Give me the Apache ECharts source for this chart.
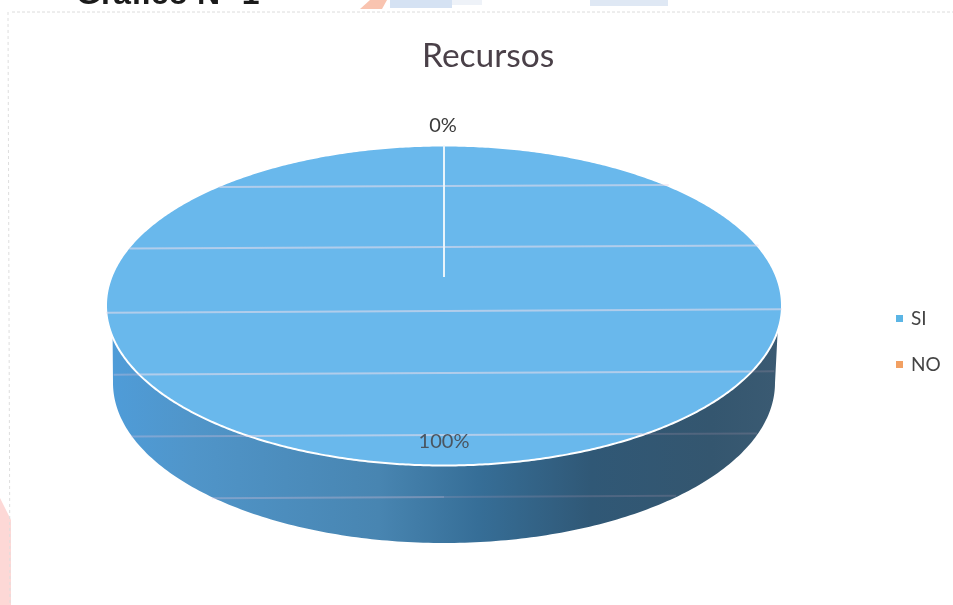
<!DOCTYPE html>
<html><head><meta charset="utf-8">
<style>html,body{margin:0;padding:0;background:#fff}#c{width:953px;height:605px}</style>
<script src="https://cdn.jsdelivr.net/npm/echarts@6/dist/echarts.min.js"></script>
</head><body><div id="c"></div>
<script>
var categories = ['SI', 'NO'];
var values = [100, 0];
var percentLabels = ['100%', '0%'];
var chartTitle = 'Recursos';
var scanHeading = 'Gráfico N° 1';

var cx = 444, cy = 305.5, rx = 338, ry = 160;
var bx = 444, by = 383, brx = 331, bry = 160;
var apexY = 277;
var scanLines = [186, 247, 311, 373, 435, 497];
var total = values[0] + values[1];

function sweepOf(i) {
  var before = 0;
  for (var k = 0; k < i; k++) before += values[k];
  return [-Math.PI / 2 + before / total * 2 * Math.PI, -Math.PI / 2 + (before + values[i]) / total * 2 * Math.PI];
}
function arc(x, y, a, b, t0, t1, n) {
  var p = [];
  for (var i = 0; i <= n; i++) {
    var t = t0 + (t1 - t0) * i / n;
    p.push([x + a * Math.cos(t), y + b * Math.sin(t)]);
  }
  return p;
}
function halfW(y, yc, b, a) {
  var d = (y - yc) / b;
  return Math.abs(d) >= 1 ? -1 : a * Math.sqrt(1 - d * d);
}
function scanSegs() {
  var out = [];
  var seg = function (x1, x2, y, col) {
    out.push({ type: 'line', silent: true,
      shape: { x1: x1, y1: y - (x1 - 444) * 0.005, x2: x2, y2: y - (x2 - 444) * 0.005 },
      style: { stroke: col, lineWidth: 2 } });
  };
  scanLines.forEach(function (y) {
    var t = halfW(y, cy, ry, rx), s = y > 335 ? halfW(y, by, bry, brx) : -1;
    if (t > 0) seg(cx - t, cx + t, y, 'rgba(236,222,235,0.55)');
    if (s > 0 && s > t) {
      var inner = Math.max(t, 0);
      seg(bx - s, bx - inner, y, 'rgba(235,200,220,0.3)');
      seg(bx + inner, bx + s, y, 'rgba(215,170,195,0.18)');
    }
  });
  return out;
}
function renderSlice(i) {
  return function () {
    var kids = [];
    var sw = sweepOf(i);
    if (values[i] > 0) {
      var front = arc(cx, cy, rx, ry, 0.16, Math.PI - 0.198, 200)
        .concat(arc(bx, by, brx, bry, Math.PI, 0, 200));
      kids.push({ type: 'polygon', shape: { points: front }, style: { fill: {
        type: 'linear', x: 0, y: 0, x2: 1, y2: 0, colorStops: [
          { offset: 0, color: '#4f9cd8' }, { offset: 0.12, color: '#5095c9' },
          { offset: 0.4, color: '#4885b1' }, { offset: 0.55, color: '#366e97' },
          { offset: 0.72, color: '#305876' }, { offset: 0.9, color: '#34566f' },
          { offset: 1, color: '#3a5a72' }] } } });
      kids.push({ type: 'polygon',
        shape: { points: arc(cx, cy, rx, ry, sw[0], sw[1], 720) },
        style: { fill: '#69b8ec', stroke: '#ffffff', lineWidth: 2 } });
      kids = kids.concat(scanSegs());
      kids.push({ type: 'text', z2: 10, style: { text: percentLabels[i], x: cx, y: 442, align: 'center',
        verticalAlign: 'middle', font: '20px Lato', fill: '#4a5560' } });
    } else {
      kids.push({ type: 'line', z2: 9, shape: { x1: cx + rx * Math.cos(sw[0]), y1: cy + ry * Math.sin(sw[0]), x2: cx, y2: apexY },
        style: { stroke: '#e8f4fb', lineWidth: 2 } });
      kids.push({ type: 'text', z2: 10, style: { text: percentLabels[i], x: cx - 1, y: 126, align: 'center',
        verticalAlign: 'middle', font: '20px Lato', fill: '#3a3a3a' } });
    }
    return { type: 'group', children: kids };
  };
}

var chart = echarts.init(document.getElementById('c'), null, { renderer: 'canvas' });
chart.setOption({
  animation: false,
  backgroundColor: '#ffffff',
  title: { text: chartTitle, left: 422, top: 39,
    textStyle: { fontFamily: 'Lato', fontSize: 33.5, fontWeight: 'normal', color: '#4a4048' }, padding: 0 },
  legend: { orient: 'vertical', left: 891, top: 304, icon: 'rect', itemWidth: 7, itemHeight: 7,
    itemGap: 27, data: categories,
    textStyle: { fontFamily: 'Lato', fontSize: 19, color: '#444', padding: [0, 0, 0, 3] } },
  graphic: [
    { type: 'polygon', shape: { points: [[0, 498], [11, 520], [11, 605], [0, 605]] }, style: { fill: '#fdd8d6' } },
    { type: 'polygon', shape: { points: [[370, 0], [387, 0], [382, 9], [360, 9]] }, style: { fill: '#f9c4b0' } },
    { type: 'rect', shape: { x: 390, y: 0, width: 62, height: 8 }, style: { fill: '#d5e2f3' } },
    { type: 'rect', shape: { x: 452, y: 0, width: 30, height: 5 }, style: { fill: '#eef2f8' } },
    { type: 'rect', shape: { x: 590, y: 0, width: 78, height: 6 }, style: { fill: '#dfe8f4' } },
    { type: 'line', shape: { x1: 12, y1: 12, x2: 953, y2: 12 }, style: { stroke: '#dcdcdc', lineWidth: 1, lineDash: [3, 2] } },
    { type: 'line', shape: { x1: 8, y1: 12, x2: 10, y2: 605 }, style: { stroke: '#dedede', lineWidth: 1, lineDash: [3, 3] } },
    { type: 'text', style: { text: scanHeading, x: 76, y: 11.5, verticalAlign: 'bottom',
      font: 'bold 32px "Liberation Sans"', fill: '#1a1a1a' } }
  ],
  series: categories.map(function (name, i) {
    return { type: 'custom', name: name, coordinateSystem: 'none', silent: true,
      z: i === 0 ? 2 : 3, data: [values[i]],
      itemStyle: { color: i === 0 ? '#5bb5e5' : '#f2a062' },
      renderItem: renderSlice(i) };
  })
});
</script></body></html>
